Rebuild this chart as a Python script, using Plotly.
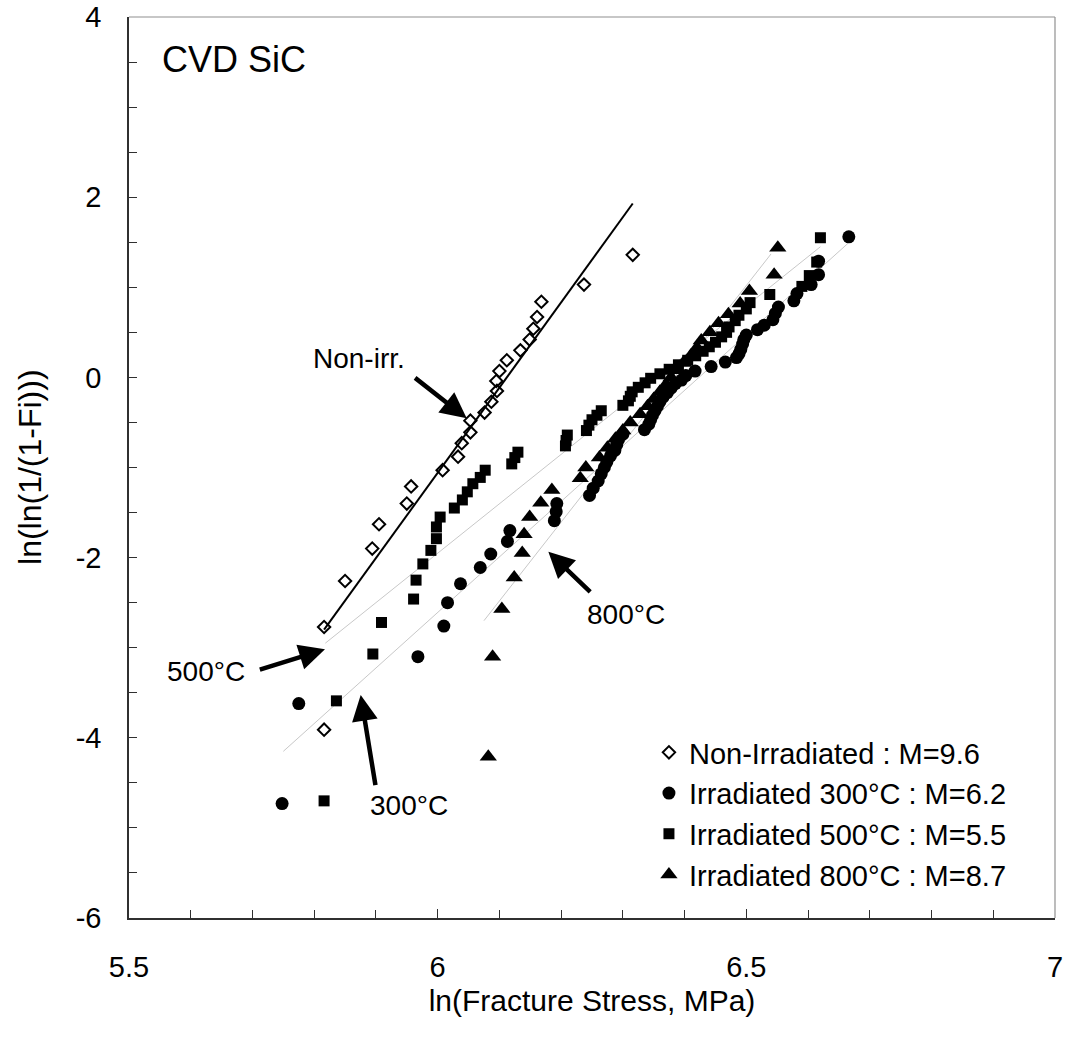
import plotly.graph_objects as go

# ---- data ----
nonirr_x = [5.816, 5.816, 5.850, 5.894, 5.905, 5.950, 5.957, 6.008, 6.033, 6.039, 6.053, 6.053, 6.076,
            6.087, 6.096, 6.095, 6.100, 6.112, 6.134, 6.149, 6.155, 6.161, 6.168, 6.237, 6.316]
nonirr_y = [-3.91, -2.77, -2.26, -1.90, -1.63, -1.40, -1.21, -1.03, -0.88, -0.73, -0.61, -0.48, -0.39,
            -0.27, -0.15, -0.04, 0.07, 0.19, 0.30, 0.42, 0.54, 0.67, 0.84, 1.03, 1.36]

irr300_x = [5.748, 5.775, 5.968, 6.010, 6.016, 6.037, 6.069, 6.086, 6.113, 6.117, 6.189, 6.192, 6.193,
            6.246, 6.252, 6.260, 6.265, 6.270, 6.274, 6.280, 6.287, 6.290, 6.293, 6.300, 6.335, 6.342,
            6.345, 6.348, 6.352, 6.356, 6.360, 6.365, 6.372, 6.378, 6.385, 6.395, 6.402, 6.417, 6.443,
            6.466, 6.484, 6.488, 6.491, 6.494, 6.496, 6.500, 6.518, 6.529, 6.543, 6.547, 6.552, 6.577,
            6.582, 6.605, 6.617, 6.617, 6.666]
irr300_y = [-4.73, -3.62, -3.10, -2.76, -2.50, -2.29, -2.11, -1.96, -1.82, -1.70, -1.59, -1.49, -1.40,
            -1.31, -1.23, -1.15, -1.07, -1.00, -0.94, -0.87, -0.81, -0.75, -0.69, -0.63, -0.58, -0.52,
            -0.47, -0.42, -0.37, -0.32, -0.27, -0.22, -0.17, -0.12, -0.07, -0.03, 0.02, 0.07, 0.12,
            0.17, 0.22, 0.26, 0.31, 0.37, 0.42, 0.47, 0.53, 0.58, 0.64, 0.71, 0.78, 0.85,
            0.93, 1.03, 1.14, 1.29, 1.56]

irr500_x = [5.816, 5.836, 5.895, 5.909, 5.961, 5.965, 5.976, 5.989, 5.998, 5.998, 6.004, 6.027, 6.040,
            6.048, 6.057, 6.069, 6.077, 6.120, 6.125, 6.130, 6.207, 6.208, 6.210, 6.241, 6.245, 6.250,
            6.258, 6.265, 6.300, 6.309, 6.312, 6.315, 6.325, 6.336, 6.345, 6.360, 6.375, 6.390, 6.405,
            6.418, 6.430, 6.440, 6.450, 6.460, 6.468, 6.472, 6.482, 6.488, 6.500, 6.506, 6.538, 6.590,
            6.602, 6.614, 6.620]
irr500_y = [-4.70, -3.59, -3.07, -2.72, -2.46, -2.25, -2.07, -1.92, -1.79, -1.66, -1.55, -1.45, -1.36,
            -1.27, -1.18, -1.11, -1.03, -0.96, -0.89, -0.83, -0.76, -0.70, -0.64, -0.59, -0.53, -0.47,
            -0.42, -0.37, -0.31, -0.26, -0.21, -0.16, -0.11, -0.06, -0.01, 0.04, 0.09, 0.14, 0.19,
            0.24, 0.29, 0.34, 0.39, 0.45, 0.50, 0.56, 0.63, 0.69, 0.76, 0.83, 0.92, 1.01,
            1.13, 1.28, 1.55]

irr800_x = [6.082, 6.089, 6.104, 6.124, 6.137, 6.140, 6.149, 6.167, 6.185, 6.231, 6.240, 6.262, 6.275,
            6.288, 6.300, 6.312, 6.328, 6.340, 6.350, 6.360, 6.370, 6.378, 6.388, 6.398, 6.410, 6.420,
            6.427, 6.441, 6.455, 6.471, 6.490, 6.505, 6.545, 6.551]
irr800_y = [-4.21, -3.10, -2.57, -2.22, -1.95, -1.74, -1.55, -1.39, -1.25, -1.12, -1.00, -0.89, -0.78,
            -0.68, -0.59, -0.50, -0.41, -0.32, -0.24, -0.16, -0.08, 0.00, 0.08, 0.16, 0.24, 0.33,
            0.41, 0.50, 0.60, 0.70, 0.82, 0.96, 1.14, 1.44]

# Weibull fit lines (end points)
fit_nonirr_x = [5.816, 6.316]
fit_nonirr_y = [-2.80, 1.93]
fit_300_x = [5.750, 6.665]
fit_300_y = [-4.15, 1.49]
fit_500_x = [5.818, 6.620]
fit_500_y = [-2.95, 1.45]
fit_800_x = [6.075, 6.540]
fit_800_y = [-2.70, 1.37]

series_names = ["Non-Irradiated : M=9.6", "Irradiated 300°C : M=6.2",
                "Irradiated 500°C : M=5.5", "Irradiated 800°C : M=8.7"]

x_tick_vals = [5.5, 6, 6.5, 7]
x_tick_text = ["5.5", "6", "6.5", "7"]
y_tick_vals = [-6, -4, -2, 0, 2, 4]
y_tick_text = ["-6", "-4", "-2", "0", "2", "4"]

FONT = "Liberation Sans, Arial, sans-serif"

fig = go.Figure()

gray = "#c8c8c8"
for fx, fy in [(fit_300_x, fit_300_y), (fit_500_x, fit_500_y), (fit_800_x, fit_800_y)]:
    fig.add_trace(go.Scatter(x=fx, y=fy, mode="lines", line=dict(color=gray, width=1),
                             showlegend=False, hoverinfo="skip"))
fig.add_trace(go.Scatter(x=fit_nonirr_x, y=fit_nonirr_y, mode="lines",
                         line=dict(color="black", width=2), showlegend=False, hoverinfo="skip"))

fig.add_trace(go.Scatter(x=nonirr_x, y=nonirr_y, mode="markers", name=series_names[0],
                         marker=dict(symbol="diamond-open", size=9.5, color="black",
                                     line=dict(color="black", width=2))))
fig.add_trace(go.Scatter(x=irr300_x, y=irr300_y, mode="markers", name=series_names[1],
                         marker=dict(symbol="circle", size=13, color="black")))
fig.add_trace(go.Scatter(x=irr500_x, y=irr500_y, mode="markers", name=series_names[2],
                         marker=dict(symbol="square", size=11, color="black")))
fig.add_trace(go.Scatter(x=irr800_x, y=irr800_y, mode="markers", name=series_names[3],
                         marker=dict(symbol="triangle-up", size=15, color="black")))

ann_font = dict(family=FONT, size=28, color="black")
texts = [
    ("Non-irr.", 5.8726, 0.215),
    ("500°C", 5.6247, -3.266),
    ("300°C", 5.9539, -4.755),
    ("800°C", 6.305, -2.637),
]
for t, x, y in texts:
    fig.add_annotation(x=x, y=y, text=t, showarrow=False, font=ann_font,
                       xanchor="center", yanchor="middle")
fig.add_annotation(x=5.550, y=3.523, text="CVD SiC", showarrow=False,
                   font=dict(family=FONT, size=36, color="black"), xanchor="left", yanchor="middle")

arrows = [
    ((5.961, 0.008), (6.047, -0.454)),
    ((5.7095, -3.248), (5.8175, -3.018)),
    ((5.8996, -4.543), (5.8753, -3.525)),
    ((6.2495, -2.396), (6.1793, -1.934)),
]
for (tx, ty), (hx, hy) in arrows:
    fig.add_annotation(x=hx, y=hy, ax=tx, ay=ty, xref="x", yref="y", axref="x", ayref="y",
                       text="", showarrow=True, arrowhead=2, arrowsize=1.15, arrowwidth=4.5,
                       arrowcolor="black", standoff=0, startstandoff=0)

# y-axis title placed as rotated text in the left margin
fig.add_annotation(x=-0.1069, y=0.5006, xref="paper", yref="paper", text="ln(ln(1/(1-Fi)))",
                   textangle=-90, showarrow=False, xanchor="center", yanchor="middle",
                   font=dict(family=FONT, size=32, color="black"))

axis_common = dict(showgrid=False, zeroline=False, showline=True, linecolor="#303030",
                   linewidth=1.5, ticks="inside", tickcolor="#303030", tickwidth=1.2,
                   automargin=False,
                   tickfont=dict(family=FONT, size=29, color="black"))

fig.update_xaxes(range=[5.5, 7], tickvals=x_tick_vals, ticktext=x_tick_text, ticklen=9,
                 minor=dict(dtick=0.1, ticks="inside", ticklen=8, tickcolor="#303030", tickwidth=1.2),
                 ticklabelstandoff=22,
                 title=dict(text="ln(Fracture Stress, MPa)", font=dict(family=FONT, size=30, color="black"),
                            standoff=8),
                 **axis_common)
fig.update_yaxes(range=[-6, 4], tickvals=y_tick_vals, ticktext=y_tick_text, ticklen=8,
                 minor=dict(dtick=0.5, ticks="inside", ticklen=8, tickcolor="#303030", tickwidth=1.2),
                 ticklabelstandoff=20,
                 **axis_common)

fig.add_shape(type="line", xref="paper", yref="paper", x0=0, x1=1, y0=1, y1=1,
              line=dict(color="#909090", width=1.2))
fig.add_shape(type="line", xref="paper", yref="paper", x0=1, x1=1, y0=0, y1=1,
              line=dict(color="#909090", width=1.2))

fig.update_layout(
    width=1070, height=1053,
    margin=dict(l=129, r=15, t=17, b=135, autoexpand=False),
    paper_bgcolor="white", plot_bgcolor="white",
    font=dict(family=FONT, color="black"),
    legend=dict(x=0.5615, y=0.2120, xanchor="left", yanchor="top",
                font=dict(family=FONT, size=29, color="black"),
                bgcolor="rgba(0,0,0,0)", borderwidth=0, itemsizing="trace"),
)

fig.write_html("out.html")
